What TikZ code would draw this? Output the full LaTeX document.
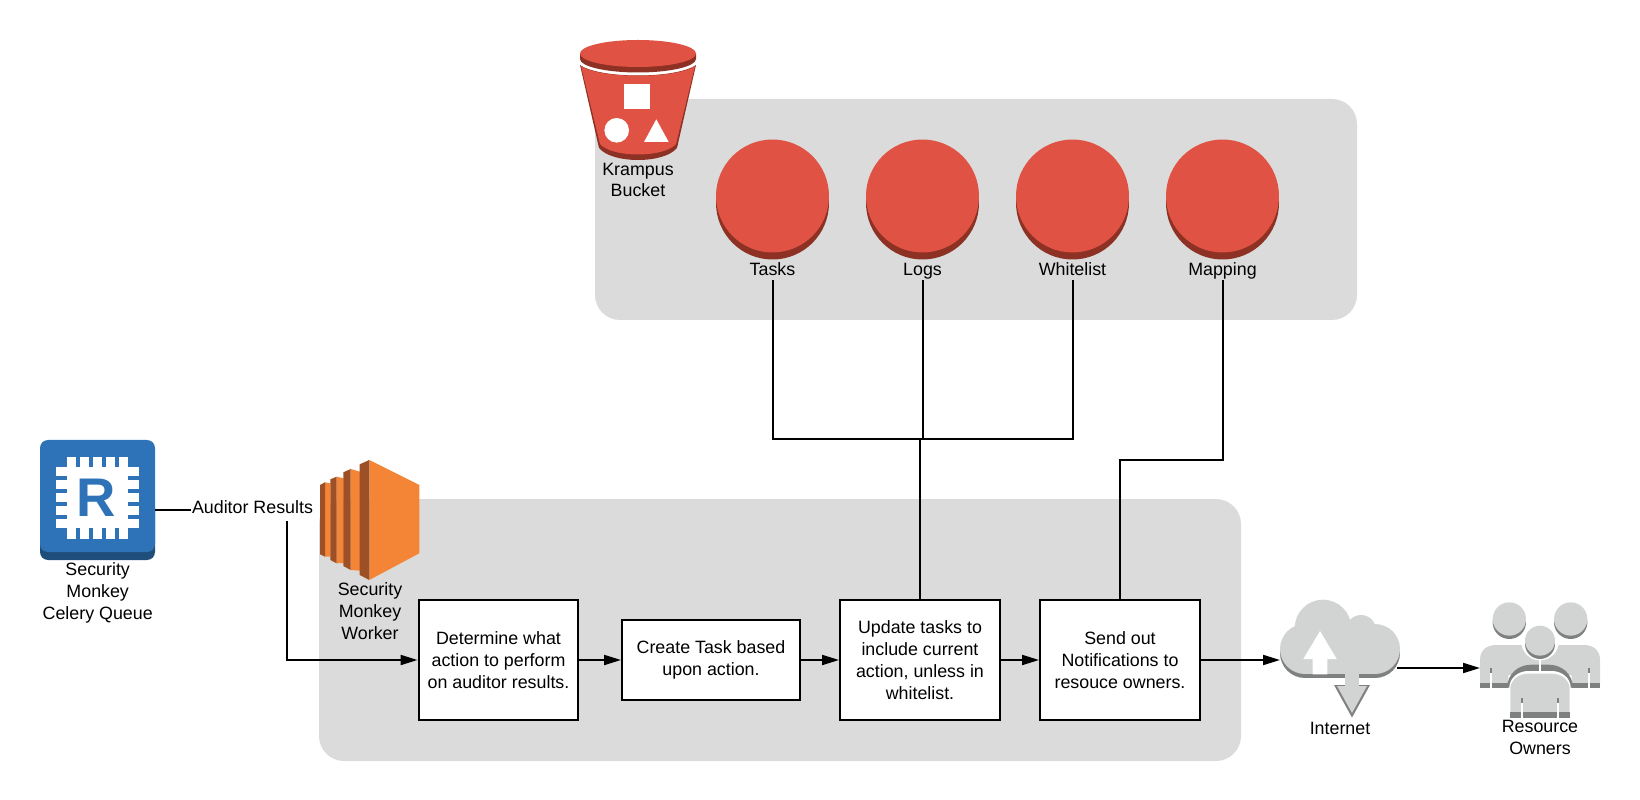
\documentclass[tikz,border=0pt]{standalone}
\usepackage{fontspec}
\setmainfont{Liberation Sans}
\usetikzlibrary{arrows.meta}

\definecolor{panelgray}{HTML}{DBDBDB}
\definecolor{bucketred}{HTML}{E05243}
\definecolor{bucketdark}{HTML}{8C3123}
\definecolor{queueblue}{HTML}{2E73B8}
\definecolor{queuedark}{HTML}{1F4E7A}
\definecolor{workerorange}{HTML}{F58536}
\definecolor{workerdark}{HTML}{9D5025}
\definecolor{icongray}{HTML}{D2D4D4}
\definecolor{icondark}{HTML}{7F8080}

\begin{document}
\begin{tikzpicture}[x=0.02cm, y=-0.02cm, >={Triangle[length=0.34cm, width=0.2cm]},
        line width=0.04cm,
        panel/.style={fill=panelgray, rounded corners=0.5cm},
        block/.style={rectangle, draw, fill=white, minimum height=2.4cm, minimum width=3.2cm, align=center, inner sep=0pt, font=\fontsize{10.15}{12.4}\selectfont},
        lbl/.style={align=center, inner sep=0pt, font=\fontsize{10.15}{12.4}\selectfont},
        tablbl/.style={lbl, text height=7.5pt, text depth=2pt},
        bubble/.style={circle, fill=bucketred, minimum size=2.26cm, inner sep=0pt}
    ]
    \useasboundingbox (0,0) rectangle (1640,800);

    % Panels
    \fill[panel] (595,99) rectangle (1357,320);
    \fill[panel] (319,499) rectangle (1241,761);

    % Krampus bucket
    \fill[bucketdark] (580,65) -- (599,148) .. controls (612,164) and (664,164) .. (677,148) -- (696,65) .. controls (676,79) and (600,79) .. (580,65);
    \fill[bucketred] (581,66) -- (600,144) .. controls (612,158) and (664,158) .. (676,144) -- (695,66) .. controls (676,79) and (600,79) .. (581,66);
    \fill[bucketdark] (580,53.5) -- (580,59) arc[start angle=180, end angle=0, x radius=58, y radius=13.5] -- (696,53.5) -- cycle;
    \fill[bucketred] (638,53.5) ellipse (58 and 13.5);
    \fill[white] (624,84) rectangle (650,109.3);
    \fill[white] (616.7,130.3) circle (12.3);
    \fill[white] (644,142) -- (668.7,142) -- (656.3,119.3) -- cycle;
    \node[lbl] (bucket) at (638,180) {Krampus\\Bucket};

    % Tables
    \foreach \name/\txt/\x in {tasks/Tasks/772.5, logs/Logs/922.5, whitelist/Whitelist/1072.5, mapping/Mapping/1222.5} {
        \fill[bucketdark] (\x,203) circle (56.5);
        \node[bubble] (\name) at (\x,196) {};
        \node[tablbl] (\name lbl) at (\x,271) {\txt};
    }

    % Celery queue
    \fill[queuedark, rounded corners=0.16cm] (40,500) rectangle (155,560);
    \fill[queueblue, rounded corners=0.16cm] (40,440) rectangle (155,552);
    \fill[white] (67.3,467.3) rectangle (127.7,527.7);
    \foreach \i in {0,...,4} {
        \fill[white] (56,467.4+13*\i) rectangle (139,476+13*\i);
        \fill[white] (67.4+13*\i,456.7) rectangle (76+13*\i,539);
    }
    \node[inner sep=0pt, text=queueblue, font=\fontsize{31}{31}\bfseries\selectfont] (rlogo) at (96.5,497.5) {R};
    \node[lbl] (queue) at (97.7,593) {Security\\Monkey\\Celery Queue};

    % Worker
    \fill[workerorange] (325,482.3) -- (330.3,483.3) -- (330.3,556.7) -- (325,556.7) -- cycle;
    \fill[workerdark] (320,485) -- (325,482.3) -- (325,556.7) -- (320,554.3) -- cycle;
    \fill[workerorange] (336.7,476.7) -- (343.7,478.3) -- (343.7,563) -- (336.7,563.3) -- cycle;
    \fill[workerdark] (330.3,479.3) -- (336.7,476.7) -- (336.7,563.3) -- (330.3,560) -- cycle;
    \fill[workerorange] (350.7,469) -- (360,471.7) -- (360,570.7) -- (350.7,570) -- cycle;
    \fill[workerdark] (343.3,472.3) -- (350.7,469) -- (350.7,570) -- (343.3,566) -- cycle;
    \fill[workerorange] (369.3,460) -- (419.3,485) -- (419.3,553.3) -- (369.3,580) -- cycle;
    \fill[workerdark] (359.7,464.3) -- (369.3,460) -- (369.3,580) -- (359.7,575) -- cycle;
    \node[lbl] (worker) at (370,611) {Security\\Monkey\\Worker};

    % Steps
    \node[block] (determine) at (498.5,660) {Determine what\\action to perform\\on auditor results.};
    \node[block, minimum width=3.56cm, minimum height=1.6cm] (create) at (711,660) {Create Task based\\upon action.};
    \node[block] (update) at (920,660) {Update tasks to\\include current\\action, unless in\\whitelist.};
    \node[block] (send) at (1120,660) {Send out\\Notifications to\\resouce owners.};

    % Internet
    \foreach \col/\dy in {icondark/4, icongray/0} {
        \begin{scope}[yshift=-\dy*0.02cm]
            \fill[\col] (1305,649) circle (25);
            \fill[\col] (1375,649) circle (25);
            \fill[\col] (1323,628) circle (28.3);
            \fill[\col] (1361,630) circle (15);
            \fill[\col] (1305,635) rectangle (1375,674);
        \end{scope}
    }
    \fill[white] (1320,631) -- (1336.7,659) -- (1327.3,659) -- (1327.3,674.3) -- (1312.7,674.3) -- (1312.7,659) -- (1303.3,659) -- cycle;
    \fill[icondark] (1334,685) -- (1370,685) -- (1352,717.5) -- cycle;
    \fill[icongray] (1345,674) rectangle (1359,687);
    \fill[icongray] (1337,686) -- (1367,686) -- (1352,713) -- cycle;
    \node[lbl] (internet) at (1340,728) {Internet};

    % Resource owners
    \begin{scope}[shift={(1475,595)}, scale=1/3]
        \foreach \hx in {103,287} {
            \fill[icondark] (\hx,82) circle (50);
            \fill[icongray] (\hx,72) circle (50);
        }
        \fill[icongray] (15,265) -- (15,195) .. controls (15,165) and (35,150) .. (65,150) -- (325,150) .. controls (355,150) and (375,165) .. (375,195) -- (375,265) -- (290,265) -- (290,240) -- (100,240) -- (100,265) -- cycle;
        \fill[icondark] (15,265) rectangle (100,278);
        \fill[icondark] (290,265) rectangle (375,278);
        \foreach \nx in {48,342} {
            \fill[white] (\nx-2.5,235) rectangle (\nx+2.5,278);
            \fill[icondark] (\nx-2.5,218) rectangle (\nx+2.5,235);
        }
        % halo and arc behind the front figure
        \fill[white] (195,140) circle (56);
        \fill[icondark] (96,278) .. controls (98,235) and (130,209) .. (170,209) -- (220,209) .. controls (260,209) and (292,235) .. (294,278) -- cycle;
        \fill[white] (103,378) -- (103,275) .. controls (105,248) and (130,228) .. (160,228) -- (230,228) .. controls (260,228) and (285,248) .. (287,275) -- (287,378) -- cycle;
        \fill[white] (191,195) rectangle (199,230);
        \fill[icongray] (106,352) -- (106,280) .. controls (108,255) and (130,236) .. (160,236) -- (230,236) .. controls (260,236) and (282,255) .. (284,280) -- (284,352) -- cycle;
        \fill[icondark] (106,352) rectangle (284,368);
        \foreach \nx in {141,248} {
            \fill[white] (\nx-2.5,325) rectangle (\nx+2.5,368);
            \fill[icondark] (\nx-2.5,308) rectangle (\nx+2.5,325);
        }
        \fill[icondark] (195,147) circle (45);
        \fill[icongray] (195,137) circle (45);
    \end{scope}
    \node[lbl] (owners) at (1540,737.5) {Resource\\Owners};

    % Connectors
    \node[lbl] (results) at (252.5,507.5) {Auditor Results};
    \coordinate (queueout) at (155,510);
    \coordinate (resultsout) at (287,521);
    \coordinate (tablebus) at (922.5,439.5);
    \coordinate (mapbend) at (1120,460);
    \coordinate (cloudin) at (1280,660);
    \coordinate (cloudout) at (1397,668);
    \coordinate (ownersin) at (1480,668);

    \draw (queueout) -- (queueout -| results.west);
    \draw[->] (resultsout) |- (determine.west);
    \draw[->] (determine) -- (create);
    \draw[->] (create) -- (update);
    \draw[->] (update) -- (send);
    \draw[->] (send) -- (cloudin);
    \draw[->] (cloudout) -- (ownersin);

    \draw (taskslbl.south) |- (tablebus) -| (whitelistlbl.south);
    \draw (logslbl.south) -- (tablebus);
    \draw (update.north) -- (update.north |- tablebus);
    \draw (mappinglbl.south) |- (mapbend) -- (send.north);
\end{tikzpicture}
\end{document}
